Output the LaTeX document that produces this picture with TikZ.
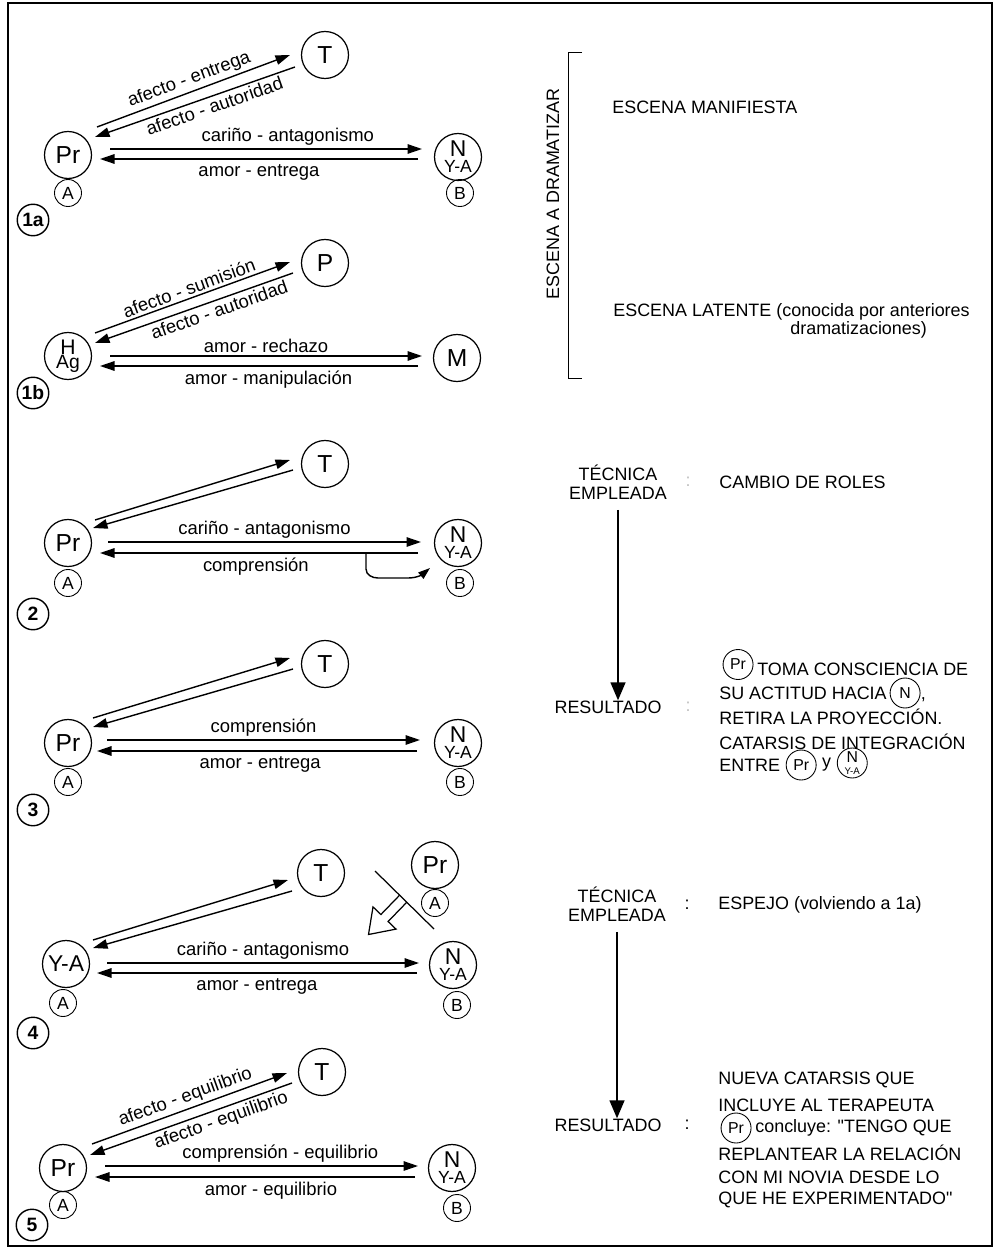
\documentclass[tikz,border=0pt]{standalone}
\usepackage{fontspec}
\setmainfont{Liberation Sans}[Ligatures=TeXOff]
\usepackage{tikz}
\usetikzlibrary{arrows.meta, positioning}

\begin{document}
\begin{tikzpicture}[x=0.2mm, y=-0.2mm,
    role/.style={circle, draw, line width=0.7pt, minimum size=9.4mm, inner sep=0pt, font=\fontsize{14}{14}\selectfont},
    pair/.style={role, align=center, font=\fontsize{13}{10}\selectfont},
    tag/.style={circle, draw, line width=0.5pt, minimum size=5.4mm, inner sep=0pt, font=\fontsize{10}{10}\selectfont},
    badge/.style={circle, draw, line width=0.8pt, minimum size=6.3mm, inner sep=0pt, font=\fontsize{11}{11}\selectfont\bfseries},
    rel/.style={line width=0.8pt, -{Triangle[length=2.9mm, width=1.9mm]}},
    lab/.style={font=\fontsize{10.5}{12}\selectfont, inner sep=1.5pt},
    txt/.style={font=\fontsize{10.2}{11}\selectfont, inner sep=0pt},
    mini/.style={circle, draw, line width=0.5pt, minimum size=6mm, inner sep=0pt, font=\fontsize{9}{9}\selectfont},
    flow/.style={line width=0.8pt, -{Triangle[length=3.6mm, width=3mm]}}]
  \useasboundingbox (0,0) rectangle (1000,1252);

  % Frame
  \draw[line width=0.4mm] (8,3) rectangle (992,1246);

  % 1a
  \node[role] (pa) at (68,155) {Pr};
  \node[role] (ta) at (325,55) {T};
  \node[pair] (na) at (458,157) {N\\[-1pt]{\fontsize{10}{8}\selectfont Y-A}};
  \node[tag] (aa) at (68,193) {A};
  \node[tag] (ba) at (460,193) {B};
  \node[badge] (ka) at (33,220) {1a};
  \draw[rel] ([shift={(29,-28)}]pa.center) -- ([shift={(-35,0)}]ta.center)
    node[lab, midway, sloped, above] {afecto - entrega};
  \draw[rel] ([shift={(-30,12)}]ta.center) -- ([shift={(27,-18)}]pa.center)
    node[lab, pos=0.42, sloped, below] {afecto - autoridad};
  \draw[rel] ([shift={(42,-6)}]pa.center) -- ([shift={(-36,-8)}]na.center)
    node[lab, pos=0.57, above] {cariño - antagonismo};
  \draw[rel] ([shift={(-40,2)}]na.center) -- ([shift={(32,4)}]pa.center)
    node[lab, midway, below=1pt] {amor - entrega};

  % 1b
  \node[pair, font=\fontsize{12}{10}\selectfont] (hb) at (68,356) {H\\[-2pt]{\fontsize{11}{8}\selectfont Ag}};
  \node[role] (pb) at (325,263) {P};
  \node[role] (mb) at (457,358) {M};
  \node[badge] (kb) at (33,393) {1b};
  \draw[rel] ([shift={(27,-23)}]hb.center) -- ([shift={(-35,-1)}]pb.center)
    node[lab, midway, sloped, above] {afecto - sumisión};
  \draw[rel] ([shift={(-32,10)}]pb.center) -- ([shift={(27,-13)}]hb.center)
    node[lab, pos=0.39, sloped, below] {afecto - autoridad};
  \draw[rel] ([shift={(42,0)}]hb.center) -- ([shift={(-35,-2)}]mb.center)
    node[lab, midway, above] {amor - rechazo};
  \draw[rel] ([shift={(-39,8)}]mb.center) -- ([shift={(32,10)}]hb.center)
    node[lab, pos=0.47, below=1pt] {amor - manipulación};

  % 2
  \node[role] (p2) at (68,543) {Pr};
  \node[role] (t2) at (325,464) {T};
  \node[pair] (n2) at (458,543) {N\\[-1pt]{\fontsize{10}{8}\selectfont Y-A}};
  \node[tag] (a2) at (68,583) {A};
  \node[tag] (b2) at (460,583) {B};
  \node[badge] (k2) at (33,614) {2};
  \draw[rel] ([shift={(27,-23)}]p2.center) -- ([shift={(-35,-4)}]t2.center);
  \draw[rel] ([shift={(-32,6)}]t2.center) -- ([shift={(25,-15)}]p2.center);
  \draw[rel] ([shift={(40,-1)}]p2.center) -- ([shift={(-37,-1)}]n2.center)
    node[lab, midway, above] {cariño - antagonismo};
  \draw[rel] ([shift={(-40,10)}]n2.center) -- ([shift={(32,10)}]p2.center)
    node[lab, pos=0.51, below=1pt] {comprensión};
  \draw[line width=0.8pt, -{Triangle[length=2.4mm, width=1.6mm]}]
    ([shift={(-92,10)}]n2.center) -- ++(0,16) to[out=-90, in=180] ++(12,9)
    -- ++(30,0) to[out=0, in=-140] ([shift={(-28,25)}]n2.center);

  % 3
  \node[role] (p3) at (68,743) {Pr};
  \node[role] (t3) at (325,664) {T};
  \node[pair] (n3) at (458,743) {N\\[-1pt]{\fontsize{10}{8}\selectfont Y-A}};
  \node[tag] (a3) at (68,782) {A};
  \node[tag] (b3) at (460,782) {B};
  \node[badge] (k3) at (33,810) {3};
  \draw[rel] ([shift={(25,-25)}]p3.center) -- ([shift={(-35,-6)}]t3.center);
  \draw[rel] ([shift={(-32,5)}]t3.center) -- ([shift={(25,-16)}]p3.center);
  \draw[rel] ([shift={(39,-3)}]p3.center) -- ([shift={(-38,-3)}]n3.center)
    node[lab, pos=0.5, above] {comprensión};
  \draw[rel] ([shift={(-41,8)}]n3.center) -- ([shift={(29,8)}]p3.center)
    node[lab, pos=0.49, below=1pt] {amor - entrega};

  % 4
  \node[role, font=\fontsize{13}{12}\selectfont] (y4) at (66,964) {Y-A};
  \node[role] (t4) at (321,873) {T};
  \node[pair] (n4) at (453,965) {N\\[-1pt]{\fontsize{10}{8}\selectfont Y-A}};
  \node[tag] (a4) at (63,1003) {A};
  \node[tag] (b4) at (457,1005) {B};
  \node[badge] (k4) at (33,1033) {4};
  \node[role] (pr4) at (435,865) {Pr};
  \node[tag] (apr4) at (435,903) {A};
  \draw[rel] ([shift={(27,-24)}]y4.center) -- ([shift={(-33,7)}]t4.center);
  \draw[rel] ([shift={(-29,18)}]t4.center) -- ([shift={(27,-16)}]y4.center);
  \draw[rel] ([shift={(41,-1)}]y4.center) -- ([shift={(-34,-2)}]n4.center)
    node[lab, midway, above] {cariño - antagonismo};
  \draw[rel] ([shift={(-36,8)}]n4.center) -- ([shift={(31,9)}]y4.center)
    node[lab, pos=0.5, below=1pt] {amor - entrega};
  % mirror
  \draw[line width=0.7pt, fill=white] (399.6,895.2) -- (380.9,914.5) -- (373,906.9)
    -- (368.5,934.5) -- (396,929.1) -- (388.1,921.5) -- (406.8,902.2);
  \draw[line width=0.7pt] (375,871) -- (434,929);

  % 5
  \node[role] (p5) at (63,1168) {Pr};
  \node[role] (t5) at (322,1072) {T};
  \node[pair] (n5) at (452,1168) {N\\[-1pt]{\fontsize{10}{8}\selectfont Y-A}};
  \node[tag] (a5) at (63,1205) {A};
  \node[tag] (b5) at (457,1208) {B};
  \node[badge] (k5) at (32,1225) {5};
  \draw[rel] ([shift={(29,-24)}]p5.center) -- ([shift={(-35,1)}]t5.center)
    node[lab, midway, sloped, above] {afecto - equilibrio};
  \draw[rel] ([shift={(-30,11)}]t5.center) -- ([shift={(27,-13)}]p5.center)
    node[lab, pos=0.37, sloped, below] {afecto - equilibrio};
  \draw[rel] ([shift={(42,-2)}]p5.center) -- ([shift={(-34,-2)}]n5.center)
    node[lab, pos=0.56, above] {comprensión - equilibrio};
  \draw[rel] ([shift={(-37,9)}]n5.center) -- ([shift={(32,9)}]p5.center)
    node[lab, pos=0.45, below=1pt] {amor - equilibrio};

  % Scene bracket
  \draw[line width=0.5pt] (582,52) -- (568,52) -- (568,378) -- (582,378);
  \node[txt, rotate=90] (esc) at (553,194) {ESCENA A DRAMATIZAR};
  \node[txt, anchor=west] (man) at (612,107) {ESCENA MANIFIESTA};
  \node[txt, anchor=west] (lat) at (613,312) {ESCENA LATENTE (conocida por anteriores};
  \node[txt, anchor=west] (lat2) at (790,330) {dramatizaciones)};

  % Technique: role reversal
  \node[txt, align=center] (tec1) at (618,482) {TÉCNICA\\EMPLEADA};
  \node[txt, gray!50] at (688,482) {:};
  \node[txt, anchor=west] (cam) at (719,482) {CAMBIO DE ROLES};
  \node[txt] (res1) at (608,707) {RESULTADO};
  \node[txt, gray!50] at (688,707) {:};
  \draw[flow] ([yshift=-2mm]tec1.south) -- (tec1.south |- res1.north);
  \node[txt, anchor=west] (ra1) at (757,669) {TOMA CONSCIENCIA DE};
  \node[mini, left=2pt of ra1, yshift=0.9mm] (rpa) {Pr};
  \node[txt, anchor=west] (ra2) at (719,693) {SU ACTITUD HACIA};
  \node[mini, right=1.5pt of ra2] (rna) {N};
  \node[txt, anchor=base west] at (rna.east |- ra2.base) {,};
  \node[txt, anchor=west] (ra3) at (719,717) {RETIRA LA PROYECCIÓN.};
  \node[txt, anchor=west] (ra4) at (719,742) {CATARSIS DE INTEGRACIÓN};
  \node[txt, anchor=west] (ra5) at (719,765) {ENTRE};
  \node[mini, right=3pt of ra5] (rpb) {Pr};
  \node[txt, right=3pt of rpb] (ry) {y};
  \node[mini, right=3pt of ry, yshift=0.4mm, align=center] (rnb) {N\\[-2.5pt]{\fontsize{5.5}{5}\selectfont Y-A}};

  % Technique: mirror
  \node[txt, align=center] (tec2) at (617,904) {TÉCNICA\\EMPLEADA};
  \node[txt] at (687,905) {:};
  \node[txt, anchor=west] (esp) at (718,905) {ESPEJO (volviendo a 1a)};
  \node[txt] (res2) at (608,1125) {RESULTADO};
  \node[txt] at (687,1125) {:};
  \draw[flow] ([yshift=-2mm]tec2.south) -- (tec2.south |- res2.north);
  \node[txt, anchor=west] (rb1) at (718,1080) {NUEVA CATARSIS QUE};
  \node[txt, anchor=west] (rb2) at (718,1105) {INCLUYE AL TERAPEUTA};
  \node[txt, anchor=west] (rb3) at (755,1128) {concluye: "TENGO QUE};
  \node[mini, left=2pt of rb3] (rpc) {Pr};
  \node[txt, anchor=west] (rb4) at (718,1153) {REPLANTEAR LA RELACIÓN};
  \node[txt, anchor=west] (rb5) at (718,1177) {CON MI NOVIA DESDE LO};
  \node[txt, anchor=west] (rb6) at (718,1200) {QUE HE EXPERIMENTADO"};
\end{tikzpicture}
\end{document}
